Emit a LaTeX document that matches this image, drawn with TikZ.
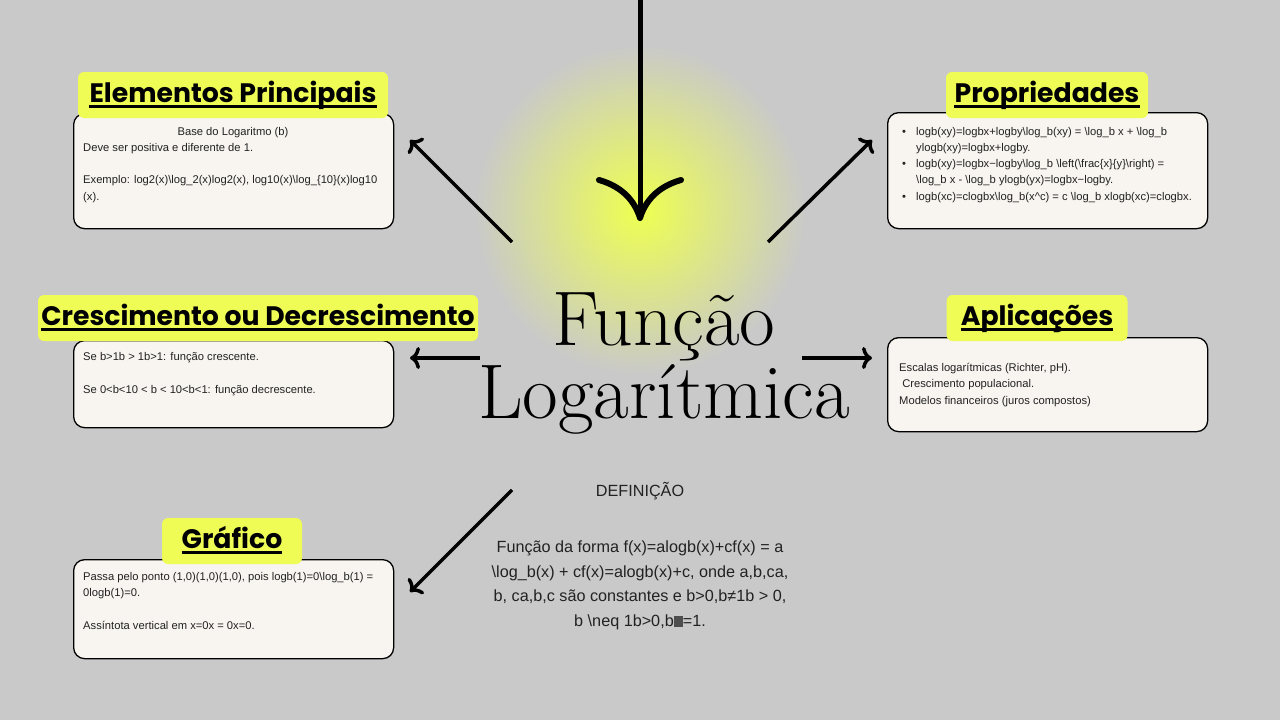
\documentclass[tikz,border=0pt]{standalone}
\usepackage{fontspec}
\newfontfamily\bodyfont{Liberation Sans}
\newfontfamily\headfont{Poppins}
\usetikzlibrary{arrows.meta,positioning}
\definecolor{bggray}{HTML}{C9C9C9}
\definecolor{glowyellow}{HTML}{EEFF50}
\definecolor{hlyellow}{HTML}{EEFC55}
\definecolor{cardfill}{HTML}{F8F5F0}
\definecolor{inkgray}{HTML}{222222}
\tikzset{
  card/.style={draw=black,line width=1.3pt,fill=cardfill,rounded corners=11pt,
    anchor=north west,inner sep=0pt},
  headbox/.style={fill=hlyellow,rounded corners=6pt,inner sep=0pt,minimum height=46pt},
  headtext/.style={anchor=base,inner sep=0pt,text=black,
    font=\headfont\bfseries\fontsize{26.7}{30}\selectfont},
  cardtext/.style={anchor=base west,inner sep=0pt,align=left,text=inkgray,
    font=\bodyfont\fontsize{11.2}{16.2}\selectfont},
  deftext/.style={anchor=base,inner sep=0pt,align=center,text=inkgray,
    font=\bodyfont\fontsize{16.2}{24.5}\selectfont},
  spoke/.style={line width=3.5pt,-{Computer Modern Rightarrow[length=10pt,width=22pt]}},
}
\newcommand{\headline}[1]{\draw[line width=2.6pt] ([yshift=-4.5pt]#1.base west) -- ([yshift=-4.5pt]#1.base east);}

\begin{document}
\begin{tikzpicture}[x=1pt,y=-1pt]
  \fill[bggray] (0,0) rectangle (1280,720);
  \useasboundingbox (0,0) rectangle (1280,720);
  % glow behind the hub
  \shade[inner color=glowyellow,outer color=bggray] (640,210) circle (165);

  % title
  \node[anchor=base,align=center,inner sep=0pt,font=\fontsize{77.5}{73}\selectfont] (title) at (664,418) {Função\\Logarítmica};

  % spokes
  \coordinate (top) at (640,-4);
  \coordinate (hub) at (640,221);
  \draw[line width=5pt,-{Computer Modern Rightarrow[length=44pt,width=88pt,line width=6pt]}] (top) -- (hub);
  \coordinate (nwin) at (512,242);  \coordinate (nwout) at (410,140);
  \coordinate (nein) at (768,242);  \coordinate (neout) at (872,140);
  \coordinate (win) at (480,358);   \coordinate (wout) at (410,358);
  \coordinate (ein) at (802,358);   \coordinate (eout) at (872,358);
  \coordinate (swin) at (512,490);  \coordinate (swout) at (410,592);
  \draw[spoke] (nwin) -- (nwout);
  \draw[spoke] (nein) -- (neout);
  \draw[spoke] (win) -- (wout);
  \draw[spoke] (ein) -- (eout);
  \draw[spoke] (swin) -- (swout);

  % Elementos Principais
  \node[card,minimum width=320pt,minimum height=115pt] (elem) at (73,113) {};
  \node[headbox,minimum width=310pt] (elemhead) at (233,95) {};
  \node[headtext] (elemtitle) at (233,102) {Elementos Principais};
  \headline{elemtitle}
  \node[cardtext,anchor=base] (elembase) at (233,135) {Base do Logaritmo (b)};
  \node[cardtext] (elembody) at (83,200) {Deve ser positiva e diferente de 1.\\[16.2pt]
    Exemplo: log2(x)\textbackslash log\_2(x)log2(x), log10(x)\textbackslash log\_\{10\}(x)log10\\(x).};

  % Propriedades
  \node[card,minimum width=320pt,minimum height=116pt] (prop) at (887,112) {};
  \node[headbox,minimum width=202pt] (prophead) at (1047,95) {};
  \node[headtext] (proptitle) at (1047,102) {Propriedades};
  \headline{proptitle}
  \node[cardtext] (propbody) at (902,200) {%
    \makebox[14pt][l]{\textbullet}logb(xy)=logbx+logby\textbackslash log\_b(xy) = \textbackslash log\_b x + \textbackslash log\_b\\
    \hspace*{14pt}ylogb(xy)=logbx+logby.\\
    \makebox[14pt][l]{\textbullet}logb(xy)=logbx−logby\textbackslash log\_b \textbackslash left(\textbackslash frac\{x\}\{y\}\textbackslash right) =\\
    \hspace*{14pt}\textbackslash log\_b x - \textbackslash log\_b ylogb(yx)=logbx−logby.\\
    \makebox[14pt][l]{\textbullet}logb(xc)=clogbx\textbackslash log\_b(x\textasciicircum c) = c \textbackslash log\_b xlogb(xc)=clogbx.};

  % Crescimento ou Decrescimento
  \node[card,minimum width=320pt,minimum height=87pt] (cresc) at (73,340) {};
  \node[headbox,minimum width=440pt] (creschead) at (258,318) {};
  \node[headtext] (cresctitle) at (258,325) {Crescimento ou Decrescimento};
  \headline{cresctitle}
  \node[cardtext] (crescbody) at (83,393) {Se b>1b > 1b>1: função crescente.\\[16.2pt]
    Se 0<b<10 < b < 10<b<1: função decrescente.};

  % Aplicações
  \node[card,minimum width=320pt,minimum height=94pt] (apl) at (887,337) {};
  \node[headbox,minimum width=181pt] (aplhead) at (1037,318) {};
  \node[headtext] (apltitle) at (1037,325) {Aplicações};
  \headline{apltitle}
  \node[cardtext] (aplbody) at (899,404) {Escalas logarítmicas (Richter, pH).\\
    \ Crescimento populacional.\\
    Modelos financeiros (juros compostos)};

  % Gráfico
  \node[card,minimum width=320pt,minimum height=99pt] (graf) at (73,559) {};
  \node[headbox,minimum width=140pt] (grafhead) at (232,541) {};
  \node[headtext] (graftitle) at (232,548) {Gráfico};
  \headline{graftitle}
  \node[cardtext] (grafbody) at (83,629) {Passa pelo ponto (1,0)(1,0)(1,0), pois logb(1)=0\textbackslash log\_b(1) =\\
    0logb(1)=0.\\[16.2pt]
    Assíntota vertical em x=0x = 0x=0.};

  % Definição
  \node[deftext] (defhead) at (640,496) {DEFINIÇÃO};
  \node[deftext] (defbody) at (640,626) {%
    Função da forma f(x)=alogb(x)+cf(x) = a\\
    \textbackslash log\_b(x) + cf(x)=alogb(x)+c, onde a,b,ca,\\
    b, ca,b,c são constantes e b>0,b≠1b > 0,\\
    b \textbackslash neq 1b>0,b{\color{inkgray!80}\rule[-0.5pt]{9pt}{11pt}}=1.};
\end{tikzpicture}
\end{document}
